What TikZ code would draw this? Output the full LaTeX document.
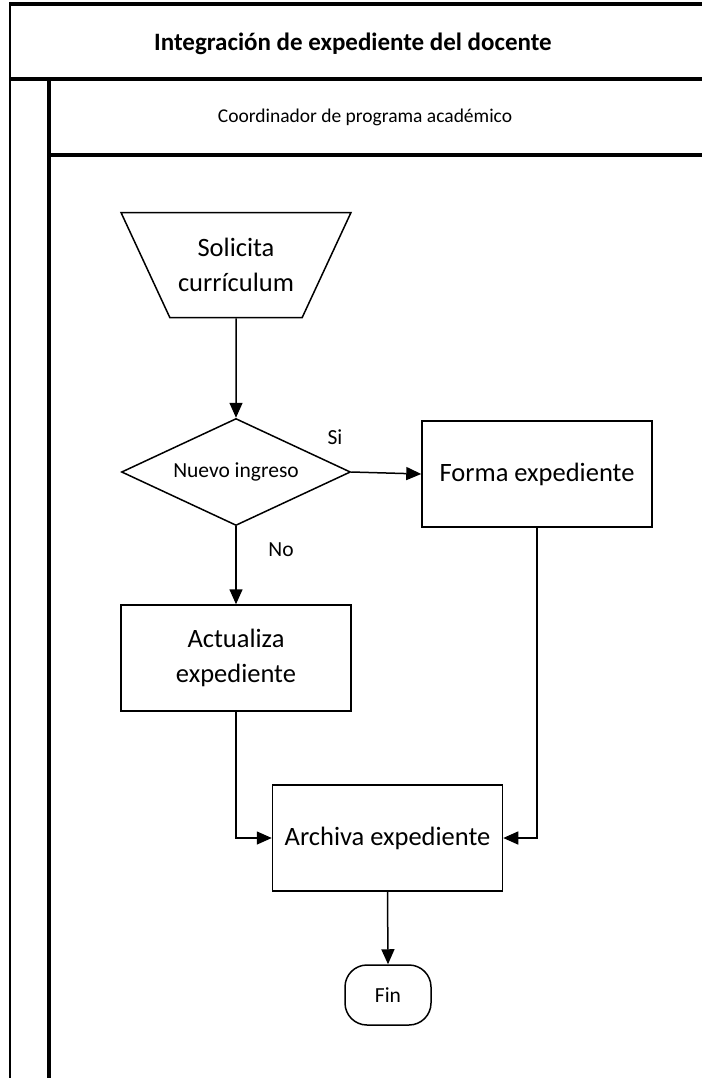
\documentclass[tikz,border=0pt]{standalone}
\usepackage{fontspec}
\setmainfont{Carlito}
\usetikzlibrary{shapes.geometric,arrows.meta}

\begin{document}
	\begin{tikzpicture}[x=1pt,y=-1pt,
		every node/.style={font=\fontsize{26.5}{35}\selectfont},
		caja/.style={rectangle,draw,line width=1.5pt,minimum width=230pt,minimum height=106pt,align=center},
		chico/.style={font=\fontsize{21.5}{25}\selectfont},
		flecha/.style={line width=1.5pt,-{Triangle[length=15pt,width=13pt]}},
		marco/.style={line width=3.5pt}]
		\useasboundingbox (0,0) rectangle (702,1078);
		\draw[marco] (10,4) -- (702,4);
		\draw[line width=2.5pt] (10,2) -- (10,1078);
		\draw[marco] (10,79) -- (702,79);
		\draw[line width=4pt] (49,79) -- (49,1078);
		\draw[marco] (49,155) -- (702,155);
		\node [font=\bfseries\fontsize{25}{30}\selectfont] (titulo) at (353,44) {Integración de expediente del docente};
		\node [font=\fontsize{19.5}{23}\selectfont] (rol) at (365,117) {Coordinador de programa académico};
		\node [trapezium,draw,line width=1.5pt,trapezium left angle=129,trapezium right angle=129,trapezium stretches body,minimum width=230pt,minimum height=105pt,align=center] (solicita) at (236,265) {Solicita\\currículum};
		\node [diamond,draw,line width=1.5pt,shape aspect=2.14,inner sep=0pt,minimum width=229pt,minimum height=107pt,chico] (nuevo) at (236,472) {Nuevo ingreso};
		\node [caja] (forma) at (537,474) {Forma expediente};
		\node [caja] (actualiza) at (236,658) {Actualiza\\expediente};
		\node [caja] (archiva) at (387.5,838) {Archiva\ expediente};
		\node [draw,rounded corners=22pt,line width=1.5pt,minimum width=86pt,minimum height=60pt,chico] (fin) at (388,995) {Fin};
		\node [chico] (si) at (335,437) {Si};
		\node [chico] (no) at (281,550) {No};
		\draw[flecha] (solicita.south) -- (nuevo.north);
		\draw[flecha] (nuevo.east) -- (forma.west);
		\draw[flecha] (nuevo.south) -- (actualiza.north);
		\draw[flecha] (actualiza.south) |- (archiva.west);
		\draw[flecha] (forma.south) |- (archiva.east);
		\draw[flecha] (archiva.south) -- (fin.north);
	\end{tikzpicture}
\end{document}
